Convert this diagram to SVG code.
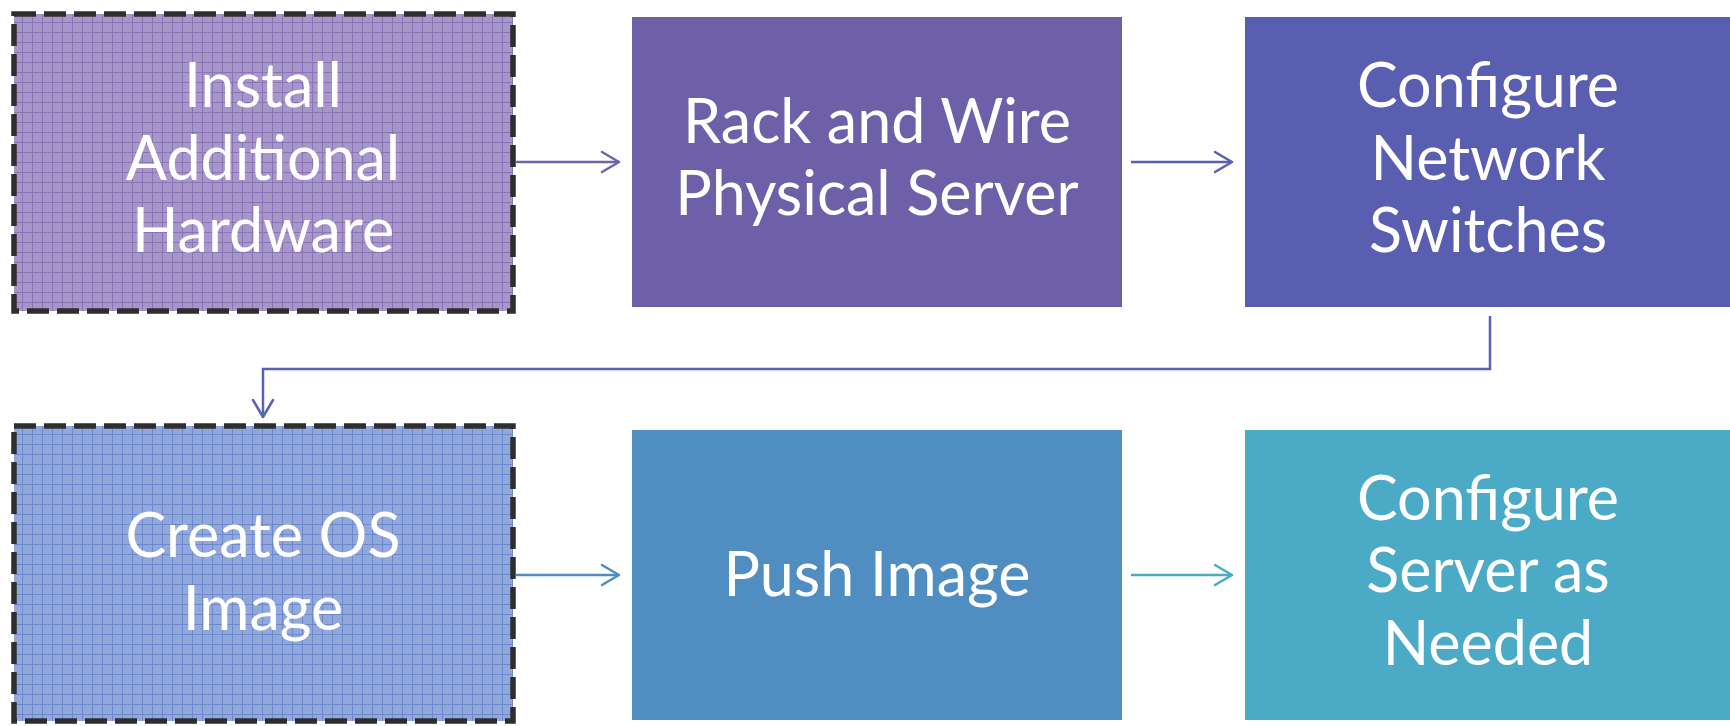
<svg xmlns="http://www.w3.org/2000/svg" width="1730" height="726" viewBox="0 0 1730 726">
<style>
  .lbl { font-family: Lato, "Open Sans", "Liberation Sans", sans-serif; font-size: 61px; fill: #ffffff; text-anchor: middle; }
  .dash { stroke: #2e2e2e; stroke-width: 5.5; stroke-dasharray: 22 8; }
  .conn { fill: none; stroke-width: 2.5; }
  .head { fill: none; stroke-width: 2.5; stroke-linecap: round; stroke-linejoin: round; }
</style>
<defs>
  <pattern id="gridP" width="10" height="10" patternUnits="userSpaceOnUse" x="12" y="12">
    <rect width="10" height="10" fill="#a696c9"/>
    <path d="M0 0.5 H10 M0.5 0 V10" stroke="#8a74b6" stroke-width="1"/>
  </pattern>
  <pattern id="gridB" width="10" height="10" patternUnits="userSpaceOnUse" x="12" y="424">
    <rect width="10" height="10" fill="#91a8dc"/>
    <path d="M0 0.5 H10 M0.5 0 V10" stroke="#6d89cb" stroke-width="1"/>
  </pattern>
</defs>
<rect width="1730" height="726" fill="#ffffff"/>

<g id="connectors">
  <g stroke="#7262a8">
    <path class="conn" d="M516 162 H619"/>
    <path class="head" d="M602 152 L619 162 L602 172"/>
  </g>
  <g stroke="#5a5eb0">
    <path class="conn" d="M1131 162 H1232"/>
    <path class="head" d="M1215 152 L1232 162 L1215 172"/>
  </g>
  <g stroke="#5a62b4">
    <path class="conn" d="M1490 316 V369 H263 V417"/>
    <path class="head" d="M253 400 L263 417 L273 400"/>
  </g>
  <g stroke="#508dc0">
    <path class="conn" d="M516 575 H619"/>
    <path class="head" d="M602 565 L619 575 L602 585"/>
  </g>
  <g stroke="#4babc6">
    <path class="conn" d="M1131 575 H1232"/>
    <path class="head" d="M1215 565 L1232 575 L1215 585"/>
  </g>
</g>

<g id="node-install">
  <rect x="14" y="14" width="499" height="297" fill="url(#gridP)" class="dash"/>
  <text class="lbl" x="263" y="107">Install</text>
  <text class="lbl" x="263" y="180">Additional</text>
  <text class="lbl" x="263" y="252">Hardware</text>
</g>
<g id="node-rack">
  <rect x="632" y="17" width="490" height="290" fill="#6e60a8"/>
  <text class="lbl" x="877" y="143">Rack and Wire</text>
  <text class="lbl" x="877" y="215">Physical Server</text>
</g>
<g id="node-network">
  <rect x="1245" y="17" width="485" height="290" fill="#5a5eb0"/>
  <text class="lbl" x="1488" y="107">Configure</text>
  <text class="lbl" x="1488" y="180">Network</text>
  <text class="lbl" x="1488" y="252">Switches</text>
</g>
<g id="node-create">
  <rect x="14" y="426" width="499" height="295" fill="url(#gridB)" class="dash"/>
  <text class="lbl" x="263" y="557">Create OS</text>
  <text class="lbl" x="263" y="630">Image</text>
</g>
<g id="node-push">
  <rect x="632" y="430" width="490" height="290" fill="#508dc0"/>
  <text class="lbl" x="877" y="596">Push Image</text>
</g>
<g id="node-configure">
  <rect x="1245" y="430" width="485" height="290" fill="#4babc6"/>
  <text class="lbl" x="1488" y="520">Configure</text>
  <text class="lbl" x="1488" y="592">Server as</text>
  <text class="lbl" x="1488" y="665">Needed</text>
</g>
</svg>
